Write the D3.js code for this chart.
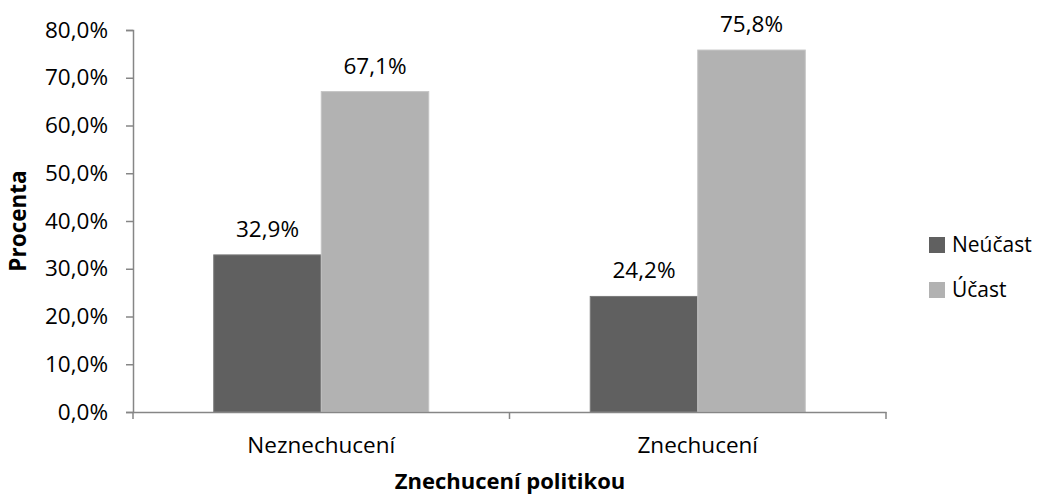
<!DOCTYPE html>
<html><head><meta charset="utf-8">
<script src="https://cdn.jsdelivr.net/npm/d3@7"></script>
<style>body{margin:0;background:#fff}svg{display:block}text{font-family:"Open Sans",sans-serif}</style>
</head><body><svg id="c" width="1040" height="499"></svg>
<script>
const categories = ["Neznechucení", "Znechucení"];
const seriesNames = ["Neúčast", "Účast"];
const neucast = [32.9, 24.2];
const ucast = [67.1, 75.8];
const yTicks = [0, 10, 20, 30, 40, 50, 60, 70, 80];
(function(){
const colors = ["#606060", "#b2b2b2"];
const strokes = ["#7a7a7a", "#c4c4c4"];

const svg = d3.select("#c");
const pL = 133, pR = 886, pT = 30, pB = 412;
const fmt = v => v.toFixed(1).replace(".", ",") + "%";

const y = d3.scaleLinear().domain([0, 80]).range([pB, pT]);
const x0 = d3.scaleBand().domain(categories).range([pL, pR]).padding(0);
const x1 = d3.scaleBand().domain(seriesNames).range([0, x0.bandwidth()]).paddingInner(0).paddingOuter(0.751);

const axisColor = "#868686";
const ya = svg.append("g").attr("transform", `translate(${pL},0)`)
  .call(d3.axisLeft(y).tickValues(yTicks).tickSize(7).tickPadding(18).tickFormat(fmt));
ya.select(".domain").attr("stroke", axisColor).attr("stroke-width", 1.5);
ya.selectAll(".tick line").attr("stroke", axisColor).attr("stroke-width", 1.5);
ya.selectAll(".tick text").attr("fill", "#000").style("font-size", "22.5px").style("font-family", "'Open Sans',sans-serif");

const data = categories.map((c, i) => ({c, vals: [neucast[i], ucast[i]]}));
const g = svg.append("g");
data.forEach(d => {
  d.vals.forEach((v, j) => {
    const bx = x0(d.c) + x1(seriesNames[j]);
    g.append("rect").attr("x", bx).attr("y", y(v)).attr("width", x1.bandwidth()).attr("height", y(0) - y(v))
      .attr("fill", colors[j]).attr("stroke", strokes[j]).attr("stroke-width", 1);
    g.append("text").attr("x", bx + x1.bandwidth() / 2).attr("y", y(v) - 18)
      .attr("text-anchor", "middle").style("font-size", "22.5px").attr("fill", "#000").text(fmt(v));
  });
});

const xa = svg.append("g").attr("transform", `translate(0,${pB})`)
  .call(d3.axisBottom(x0).tickSize(0).tickPadding(25));
xa.select(".domain").attr("stroke", axisColor).attr("stroke-width", 1.5);
xa.selectAll(".tick text").attr("fill", "#000").style("font-size", "22.5px").style("font-family", "'Open Sans',sans-serif");
const xt = [pL, ...categories.slice(1).map(c => x0(c)), pR];
svg.append("g").selectAll("line").data(xt).join("line")
  .attr("x1", d => d).attr("x2", d => d).attr("y1", pB).attr("y2", pB + 7)
  .attr("stroke", axisColor).attr("stroke-width", 1.5);

svg.append("text").attr("transform", `translate(26,${(pT + pB) / 2}) rotate(-90)`)
  .attr("text-anchor", "middle").style("font-size", "22.5px").style("font-weight", "bold").text("Procenta");
svg.append("text").attr("x", 510).attr("y", 489)
  .attr("text-anchor", "middle").style("font-size", "22px").style("font-weight", "bold").text("Znechucení politikou");

const lg = svg.append("g").attr("transform", "translate(929,237)");
seriesNames.forEach((s, i) => {
  lg.append("rect").attr("x", 0).attr("y", i * 45).attr("width", 16).attr("height", 16).attr("fill", colors[i]);
  lg.append("text").attr("x", 23).attr("y", i * 45 + 15).style("font-size", "21px").text(s);
});
})();
</script></body></html>
